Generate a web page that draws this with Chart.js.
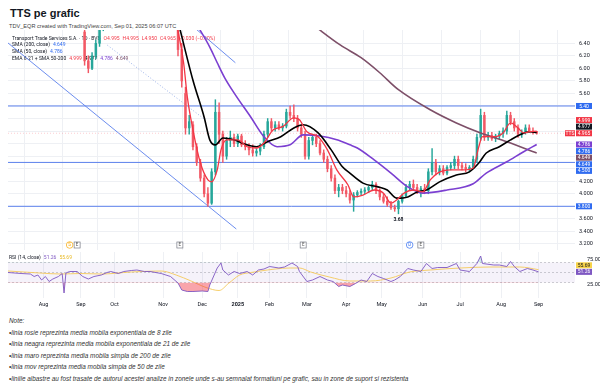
<!DOCTYPE html>
<html>
<head>
<meta charset="utf-8">
<script src="https://cdn.jsdelivr.net/npm/chart.js@4.4.0/dist/chart.umd.min.js"></script>
<style>
  html, body { margin:0; padding:0; background:#fff; }
  body { width:600px; height:391px; position:relative; overflow:hidden; font-family:"Liberation Sans", Arial, sans-serif; }
  #title { position:absolute; left:10px; top:8px; font-size:11px; line-height:1; font-weight:bold; color:#131722; }
  #sub { position:absolute; left:9px; top:24px; font-size:5.6px; line-height:1; color:#444; white-space:nowrap; }
  .pane { position:absolute; left:0; width:600px; }
  #mainPane { top:30px; height:220px; }
  #rsiPane { top:250px; height:62px; }
  #notes { position:absolute; left:9px; top:315px; font-size:6.4px; line-height:11.5px; font-style:italic; color:#333; white-space:nowrap; }
</style>
</head>
<body>
<div id="title">TTS pe grafic</div>
<div id="sub">TDV_EQR created with TradingView.com, Sep 01, 2025 06:07 UTC</div>
<div class="pane" id="mainPane"><canvas id="chartMain"></canvas></div>
<div class="pane" id="rsiPane"><canvas id="chartRsi"></canvas></div>
<div id="notes">
  <div>Note:</div>
  <div>•linia rosie reprezinta media mobila exponentiala de 8 zile</div>
  <div>•linia neagra reprezinta media mobila exponentiala de 21 de zile</div>
  <div>•linia maro reprezinta media mobila simpla de 200 de zile</div>
  <div>•linia mov reprezinta media mobila simpla de 50 de zile</div>
  <div>•liniile albastre au fost trasate de autorul acestei analize in zonele unde s-au semnalat formatiuni pe grafic, sau in zone de suport si rezistenta</div>
</div>

<script>
// ================================
// DATA (x = trading day, 0 = 1 Aug 2024)
// ================================
const monthIdx    = [0, 20, 38, 64, 85, 104, 121, 141, 162, 181, 203, 223, 245, 265];
const monthLabels = ["Aug","Sep","Oct","Nov","Dec","2025","Feb","Mar","Apr","May","Jun","Jul","Aug","Sep"];

const priceTicks      = [3.2, 3.4, 3.6, 3.8, 4.0, 4.2, 4.4, 4.6, 4.8, 5.0, 5.2, 5.4, 5.6, 5.8, 6.0, 6.2, 6.4];
const priceTickLabels = ["3.200","3.400","3.600","","4.000","4.200","","","","","","","5.60","5.80","6.00","6.20","6.40"];

const candleX = [22,24,26,28,30,32,
  72,74,76,78,80,82,84,86,88,90,
  92,94,96,98,100,102,104,106,108,110,
  112,114,116,118,120,122,124,126,128,130,
  132,134,136,138,140,142,144,146,148,150,
  152,154,156,158,160,162,164,166,168,170,
  172,174,176,178,180,182,184,186,188,190,
  192,194,196,198,200,202,204,206,208,210,
  212,214,216,218,220,222,224,226,228,230,
  232,234,236,238,240,242,244,246,248,250,
  252,254,256,258,260,262,264];
const candleOpen = [6.58,6.12,6.00,6.20,6.40,6.65,
  6.90,6.30,5.60,5.05,5.10,4.75,4.50,4.25,4.00,3.85,
  4.35,5.30,4.95,4.60,4.85,4.90,4.80,4.92,4.78,4.75,
  4.70,4.65,4.68,4.75,4.95,5.15,5.05,5.10,5.05,5.08,
  5.30,5.25,5.20,5.05,4.95,4.60,4.85,4.90,4.80,4.65,
  4.55,4.40,4.25,4.05,4.10,4.05,4.00,3.90,3.98,4.02,
  4.04,4.06,4.10,4.15,4.05,3.95,3.88,3.83,3.78,3.76,
  3.88,3.97,4.10,4.15,4.10,4.05,4.08,4.05,4.35,4.50,
  4.35,4.40,4.33,4.42,4.45,4.55,4.45,4.42,4.40,4.42,
  4.55,4.90,5.25,4.90,4.93,4.88,4.92,4.96,5.00,5.25,
  5.15,5.05,4.95,4.98,5.05,5.00,4.995];
const candleHigh = [6.65,6.20,6.25,6.45,6.70,6.85,
  7.00,6.40,5.70,5.25,5.15,4.80,4.55,4.30,4.10,4.40,
  5.50,5.45,5.00,4.90,5.00,4.95,4.95,4.95,4.85,4.80,
  4.78,4.72,4.80,5.00,5.20,5.20,5.15,5.15,5.12,5.35,
  5.40,5.42,5.25,5.10,5.00,4.90,4.95,4.95,4.85,4.70,
  4.60,4.45,4.30,4.15,4.15,4.12,4.05,4.02,4.05,4.08,
  4.10,4.12,4.20,4.18,4.08,4.00,3.95,3.88,3.82,3.90,
  4.00,4.15,4.20,4.22,4.15,4.12,4.15,4.40,4.72,4.55,
  4.45,4.45,4.45,4.50,4.60,4.60,4.50,4.48,4.45,4.60,
  4.95,5.35,5.30,4.98,4.98,4.95,5.00,5.05,5.32,5.30,
  5.20,5.10,5.02,5.10,5.10,5.05,4.995];
const candleLow = [6.05,5.93,5.98,6.15,6.35,6.60,
  6.20,5.70,4.95,4.95,4.70,4.45,4.20,3.95,3.80,3.83,
  4.30,4.80,4.50,4.55,4.75,4.75,4.75,4.75,4.70,4.62,
  4.60,4.60,4.62,4.72,4.90,5.00,5.00,5.02,5.00,5.05,
  5.20,5.15,5.00,4.90,4.55,4.55,4.78,4.75,4.62,4.50,
  4.35,4.20,4.00,3.95,4.00,3.95,3.85,3.72,3.95,3.98,
  4.00,4.02,4.05,4.00,3.90,3.85,3.80,3.75,3.72,3.68,
  3.85,3.95,4.05,4.05,4.00,3.95,4.00,4.00,4.30,4.30,
  4.30,4.30,4.30,4.38,4.40,4.40,4.38,4.35,4.35,4.40,
  4.50,4.85,4.85,4.85,4.85,4.83,4.88,4.90,4.95,5.10,
  5.00,4.90,4.90,4.95,4.98,4.95,4.950];
const candleClose = [6.12,6.00,6.20,6.40,6.65,6.80,
  6.30,5.80,5.05,5.15,4.75,4.50,4.25,4.00,3.85,4.35,
  5.30,4.95,4.60,4.85,4.90,4.80,4.92,4.78,4.75,4.70,
  4.65,4.68,4.75,4.95,5.15,5.05,5.10,5.05,5.08,5.30,
  5.25,5.20,5.05,4.95,4.60,4.85,4.90,4.80,4.65,4.55,
  4.40,4.25,4.05,4.10,4.05,4.00,3.90,3.98,4.02,4.04,
  4.06,4.10,4.15,4.05,3.95,3.88,3.83,3.78,3.76,3.88,
  3.97,4.10,4.15,4.10,4.05,4.08,4.05,4.35,4.50,4.35,
  4.40,4.33,4.42,4.45,4.55,4.45,4.42,4.40,4.42,4.55,
  4.90,5.25,4.90,4.93,4.88,4.92,4.96,5.00,5.25,5.15,
  5.05,4.95,4.98,5.05,5.00,4.995,4.965];

// moving averages
const ema8X  = [71,75,77,80,84,88,90,93,95,98,104,109,114,118,123,128,134,137,141,147,152,157,163,166,171,177,182,186,189,193,198,203,207,211,218,225,230,233,235,241,246,250,254,257,260,264];
const ema8   = [6.75,6.09,5.54,5.02,4.49,4.22,4.19,4.38,4.70,4.86,4.86,4.75,4.73,4.81,5.02,5.07,5.21,5.18,4.99,4.91,4.70,4.38,4.14,3.95,3.98,4.06,4.01,3.85,3.90,4.01,4.06,4.03,4.22,4.33,4.38,4.38,4.41,4.75,4.91,4.91,4.97,5.13,5.05,4.97,4.99,4.999];
const ema21X = [72,80,86,89,92,96,102,109,114,120,127,134,139,147,154,160,164,171,179,184,189,195,200,205,212,221,228,233,237,244,250,255,260,264];
const ema21  = [6.75,5.81,5.22,4.86,4.78,4.89,4.86,4.78,4.75,4.83,4.91,5.05,5.10,4.97,4.70,4.43,4.33,4.17,4.11,4.06,3.93,3.95,4.03,4.06,4.19,4.30,4.35,4.49,4.65,4.75,4.86,4.94,4.99,4.977];
const sma50X = [81,89,93,97,102,111,118,125,132,139,148,157,164,168,177,186,195,203,216,230,237,248,257,264];
const sma50  = [6.75,6.34,6.09,5.85,5.61,5.22,4.91,4.75,4.78,4.94,4.92,4.86,4.78,4.73,4.54,4.33,4.11,4.01,4.06,4.16,4.33,4.51,4.67,4.786];
const sma200X = [144,159,170,180,190,207,221,234,248,264];
const sma200  = [6.70,6.37,6.17,5.93,5.66,5.34,5.13,4.97,4.83,4.649];

// author's lines
const hLevels   = [5.40, 4.50, 3.80];
const trendAX   = [-19, 103.2];
const trendA    = [6.405, 3.438];
const trendBX   = [78, 102.7];
const trendB    = [6.72, 6.09];
const dottedX   = [34.2, 86.6];
const dotted    = [6.37, 5.18];

// earnings / dividend markers
const eventIdx  = [14, 18, 73, 139, 196, 202];
const eventTags = ["S","E","E","E","D","E"];

// RSI (14) and its moving average
const rsiX   = [-19,-12,-7,-5,-3,-1,1,3,5,8,10,11,12,14,18,21,24,27,31,34,36,40,43,47,50,54,57,63,68,72,74,77,80,85,88,89,93,95,96,99,102,105,109,112,115,118,121,126,129,133,136,137,141,144,148,152,155,158,160,164,167,170,173,176,179,182,186,188,191,195,198,202,205,208,211,216,221,223,228,232,234,235,241,244,248,250,252,255,259,262,265];
const rsiVal = [50,48,47,42,45,35,42,32,37,42,48,9,49,52,52,42,37,42,45,50,52,48,52,54,55,52,52,48,42,29,15,12,12,13,12,25,59,69,55,45,52,48,52,45,55,57,62,59,61,69,62,52,32,35,42,35,32,22,25,22,28,35,32,48,42,38,32,35,42,58,55,52,68,58,60,60,68,55,52,68,83,68,65,65,62,72,62,52,58,55,51.26];
const rsiMaX = [-19,-2,9,20,31,47,63,71,79,87,94,99,105,111,116,132,137,143,153,164,175,186,196,207,223,239,255,265];
const rsiMa  = [53,49,47,48,47,51,53,45,33,20,14,28,45,50,53,59,59,51,41,33,33,39,51,55,59,61,61,55.69];
const rsiTicks      = [25, 75];
const rsiTickLabels = ["25.00","75.00"];

// ================================
// HELPERS
// ================================
Chart.defaults.font.family = 'Roboto, "Liberation Sans", sans-serif';
Chart.defaults.animation = false;

const UP = "#26a69a", DN = "#f25865";
const BLUE = "#2f6bf0", RED = "#f23645", PURPLE = "#7b3fd1", MAROON = "#7d4f68";
const last = a => a[a.length - 1];
const pts = (xs, ys) => xs.map((x, k) => ({ x, y: ys[k] }));
const GRID = "#eef0f4";

function drawRuns(c, x, y, runs, gap) {
  runs.forEach(([t, col]) => { c.fillStyle = col; c.fillText(t, x, y); x += c.measureText(t).width + gap; });
}

// stack price tags on the right so they don't overlap (anchor keeps its true spot)
function drawTags(chart, scale, items, anchor) {
  const c = chart.ctx, gap = 6.6, h = 6, w = 16, left = chart.chartArea.right + 1;
  const ys = items.map(it => scale.getPixelForValue(it.value));
  for (let k = anchor - 1; k >= 0; k--) ys[k] = Math.min(ys[k], ys[k + 1] - gap);
  for (let k = anchor + 1; k < items.length; k++) ys[k] = Math.max(ys[k], ys[k - 1] + gap);
  c.save();
  c.font = "5px Roboto";
  c.textAlign = "center";
  c.textBaseline = "middle";
  items.forEach((it, k) => {
    c.fillStyle = it.bg;
    c.fillRect(left, ys[k] - h / 2, w, h);
    c.fillStyle = it.fg || "#fff";
    c.fillText(it.text, left + w / 2, ys[k] + 0.3);
  });
  c.restore();
  return ys;
}

// ================================
// MAIN PRICE PANE
// ================================
const wickData = candleX.map((x, k) => ({ x, y: [candleLow[k], candleHigh[k]], up: candleClose[k] >= candleOpen[k] }));
const bodyData = candleX.map((x, k) => ({ x, y: [candleOpen[k], candleClose[k]], up: candleClose[k] >= candleOpen[k] }));
const candleCol = ctx => (ctx.raw && ctx.raw.up) ? UP : DN;

const mainOverlay = {
  id: "mainOverlay",
  beforeDatasetsDraw(chart) {
    const c = chart.ctx;
    const n = candleClose.length;
    const chg = candleClose[n - 1] - candleClose[n - 2];
    const pct = chg / candleClose[n - 2] * 100;
    const sign = chg < 0 ? "\u2212" : "+";
    c.save();
    c.font = "5px Roboto";
    c.textBaseline = "middle";
    drawRuns(c, 12, 8.3, [
      ["Transport Trade Services S.A. \u00b7 1D \u00b7 BVB", "#131722"],
      ["O" + candleOpen[n - 1].toFixed(3), RED],
      ["H" + candleHigh[n - 1].toFixed(3), RED],
      ["L" + candleLow[n - 1].toFixed(3), RED],
      ["C" + candleClose[n - 1].toFixed(3), RED],
      [sign + Math.abs(chg).toFixed(3) + " (" + sign + Math.abs(pct).toFixed(2) + "%)", RED]
    ], 3);
    drawRuns(c, 12, 15, [["SMA (200, close)", "#131722"], [last(sma200).toFixed(3), BLUE]], 3);
    drawRuns(c, 12, 21.7, [["SMA (50, close)", "#131722"], [last(sma50).toFixed(3), BLUE]], 3);
    drawRuns(c, 12, 28.3, [
      ["EMA 8-21 + SMA 50-200", "#131722"],
      [last(ema8).toFixed(3), RED], [last(ema21).toFixed(3), "#000"],
      [last(sma50).toFixed(3), PURPLE], [last(sma200).toFixed(3), MAROON]
    ], 3);
    c.restore();
  },
  afterDraw(chart) {
    const c = chart.ctx, xs = chart.scales.x, ys = chart.scales.y;
    const tags = [
      { value: hLevels[0], text: hLevels[0].toFixed(2), bg: BLUE },
      { value: last(ema8), text: last(ema8).toFixed(3), bg: RED },
      { value: last(ema21), text: last(ema21).toFixed(3), bg: "#131722" },
      { value: last(candleClose), text: last(candleClose).toFixed(3), bg: RED },
      { value: last(sma50), text: last(sma50).toFixed(3), bg: PURPLE },
      { value: last(sma50), text: last(sma50).toFixed(3), bg: BLUE },
      { value: last(sma200), text: last(sma200).toFixed(3), bg: MAROON },
      { value: last(sma200), text: last(sma200).toFixed(3), bg: BLUE },
      { value: hLevels[1], text: hLevels[1].toFixed(3), bg: BLUE },
      { value: hLevels[2], text: hLevels[2].toFixed(3), bg: BLUE }
    ];
    const tagY = drawTags(chart, ys, tags, 3);
    // symbol tag next to last price
    c.save();
    c.fillStyle = RED;
    c.fillRect(chart.chartArea.right - 10, tagY[3] - 3, 10, 6);
    c.fillStyle = "#fff";
    c.font = "5px Roboto";
    c.textAlign = "center";
    c.textBaseline = "middle";
    c.fillText("TTS", chart.chartArea.right - 5, tagY[3] + 0.3);

    // lowest low label
    let lo = 0;
    candleLow.forEach((v, k) => { if (v < candleLow[lo]) lo = k; });
    c.fillStyle = "#131722";
    c.font = "bold 5px Roboto";
    c.fillText(candleLow[lo].toFixed(2), xs.getPixelForValue(candleX[lo]), ys.getPixelForValue(candleLow[lo]) + 6);

    // event markers
    c.lineWidth = 0.7;
    c.font = "4.5px Roboto";
    eventIdx.forEach((e, k) => {
      const px = xs.getPixelForValue(e), py = 215;
      const t = eventTags[k];
      if (t === "E") {
        c.strokeStyle = "#787b86"; c.fillStyle = "#fff";
        c.fillRect(px - 3, py - 3, 6, 6); c.strokeRect(px - 3, py - 3, 6, 6);
        c.fillStyle = "#555";
      } else {
        const col = t === "S" ? "#f7a600" : BLUE;
        c.strokeStyle = col; c.fillStyle = "#fff";
        c.beginPath(); c.arc(px, py, 3.3, 0, Math.PI * 2); c.fill(); c.stroke();
        c.fillStyle = col;
      }
      c.fillText(t, px, py + 0.3);
    });
    c.restore();
  }
};

const lineDs = (label, xs, ys, color, width, order) => ({
  type: "line", label, data: pts(xs, ys), borderColor: color, borderWidth: width,
  pointRadius: 0, cubicInterpolationMode: "monotone", order
});
const flatDs = (xs, ys, color, width, dash, order) => ({
  type: "line", data: pts(xs, ys), borderColor: color, borderWidth: width,
  borderDash: dash, pointRadius: 0, order
});

new Chart(document.getElementById("chartMain"), {
  type: "bar",
  data: {
    datasets: [
      lineDs("EMA 8", ema8X, ema8, RED, 1.3, 1),
      lineDs("EMA 21", ema21X, ema21, "#000", 1.6, 2),
      lineDs("SMA 50", sma50X, sma50, PURPLE, 1.6, 3),
      lineDs("SMA 200", sma200X, sma200, MAROON, 1.6, 4),
      { label: "bodies", data: bodyData, backgroundColor: candleCol, barThickness: 1.8, grouped: false, order: 10 },
      { label: "wicks", data: wickData, backgroundColor: candleCol, barThickness: 0.8, grouped: false, order: 11 },
      ...hLevels.map(v => flatDs([-19, 284.5], [v, v], "#5b80ec", 1, [], 20)),
      flatDs(trendAX, trendA, "#5b80ec", 0.9, [], 21),
      flatDs(trendBX, trendB, "#5b80ec", 0.9, [], 22),
      flatDs(dottedX, dotted, "rgba(120,150,225,0.8)", 0.9, [1, 2], 23),
      flatDs([-19, 284.5], [last(candleClose), last(candleClose)], "rgba(242,54,69,0.35)", 0.7, [1, 2], 30)
    ]
  },
  options: {
    responsive: true,
    maintainAspectRatio: false,
    layout: { padding: { left: 8, right: 0, top: 0, bottom: 0 } },
    plugins: { legend: { display: false }, tooltip: { enabled: false } },
    scales: {
      x: {
        type: "linear", min: -19, max: 284.5, offset: false,
        afterBuildTicks: s => { s.ticks = monthIdx.map(v => ({ value: v })); },
        afterFit: s => { s.height = 0; s.paddingLeft = 0; s.paddingRight = 0; },
        ticks: { display: false },
        grid: { color: GRID, drawTicks: false },
        border: { display: false }
      },
      y: {
        position: "right", min: 3.103, max: 6.612,
        afterBuildTicks: s => { s.ticks = priceTicks.map(v => ({ value: v })); },
        afterFit: s => { s.width = 25; s.paddingTop = 0; s.paddingBottom = 0; },
        ticks: { callback: (v, i) => priceTickLabels[i], padding: 4, color: "#131722", font: { size: 5.5 }, autoSkip: false },
        grid: { color: GRID, drawTicks: false },
        border: { display: false }
      }
    }
  },
  plugins: [mainOverlay]
});

// ================================
// RSI PANE
// ================================
const rsiOverlay = {
  id: "rsiOverlay",
  beforeDatasetsDraw(chart) {
    const c = chart.ctx, a = chart.chartArea, ys = chart.scales.y;
    const y70 = ys.getPixelForValue(70), y30 = ys.getPixelForValue(30), y50 = ys.getPixelForValue(50);
    c.save();
    c.fillStyle = "rgba(126,87,194,0.08)";
    c.fillRect(a.left, y70, a.right - a.left, y30 - y70);
    c.strokeStyle = "rgba(120,123,134,0.6)";
    c.lineWidth = 0.6;
    c.setLineDash([2, 2]);
    [y70, y50, y30].forEach(y => { c.beginPath(); c.moveTo(a.left, y); c.lineTo(a.right, y); c.stroke(); });
    c.restore();
  },
  afterDraw(chart) {
    const c = chart.ctx;
    c.save();
    c.font = "5px Roboto";
    c.textBaseline = "middle";
    drawRuns(c, 9, 7.3, [["RSI (14, close)", "#131722"], [last(rsiVal).toFixed(2), "#7e57c2"], [last(rsiMa).toFixed(2), "#e8b923"]], 3);
    c.restore();
    drawTags(chart, chart.scales.y, [
      { value: last(rsiMa), text: last(rsiMa).toFixed(2), bg: "#f7d34a", fg: "#131722" },
      { value: last(rsiVal), text: last(rsiVal).toFixed(2), bg: "#7e57c2" }
    ], 1);
  }
};

new Chart(document.getElementById("chartRsi"), {
  type: "line",
  data: {
    datasets: [
      { data: pts(rsiX, rsiVal), borderColor: "#7e57c2", borderWidth: 0.9, pointRadius: 0,
        fill: { target: { value: 30 }, above: "rgba(0,0,0,0)", below: "rgba(242,54,69,0.45)" }, order: 1 },
      { data: pts(rsiX, rsiVal), borderWidth: 0, pointRadius: 0,
        fill: { target: { value: 70 }, above: "rgba(8,153,129,0.2)", below: "rgba(0,0,0,0)" }, order: 3 },
      { data: pts(rsiMaX, rsiMa), borderColor: "#f5c95a", borderWidth: 0.9, pointRadius: 0,
        cubicInterpolationMode: "monotone", order: 2 }
    ]
  },
  options: {
    responsive: true,
    maintainAspectRatio: false,
    layout: { padding: { left: 8, right: 0, top: 2, bottom: 0 } },
    plugins: { legend: { display: false }, tooltip: { enabled: false } },
    scales: {
      x: {
        type: "linear", min: -19, max: 284.5, offset: false,
        afterBuildTicks: s => { s.ticks = monthIdx.map(v => ({ value: v })); },
        afterFit: s => { s.height = 14.5; s.paddingLeft = 0; s.paddingRight = 0; },
        ticks: {
          callback: (v, i) => monthLabels[i], autoSkip: false, maxRotation: 0, padding: 4, color: "#131722",
          font: ctx => ({ size: 5.5, weight: monthLabels[ctx.index] === "2025" ? "bold" : "normal" })
        },
        grid: { color: GRID, drawTicks: false },
        border: { display: false }
      },
      y: {
        position: "right", min: 0, max: 91,
        afterBuildTicks: s => { s.ticks = rsiTicks.map(v => ({ value: v })); },
        afterFit: s => { s.width = 25; s.paddingTop = 0; s.paddingBottom = 0; },
        ticks: { callback: (v, i) => rsiTickLabels[i], padding: 4, color: "#131722", font: { size: 5.5 } },
        grid: { display: false },
        border: { display: false }
      }
    }
  },
  plugins: [rsiOverlay]
});
</script>
</body>
</html>
